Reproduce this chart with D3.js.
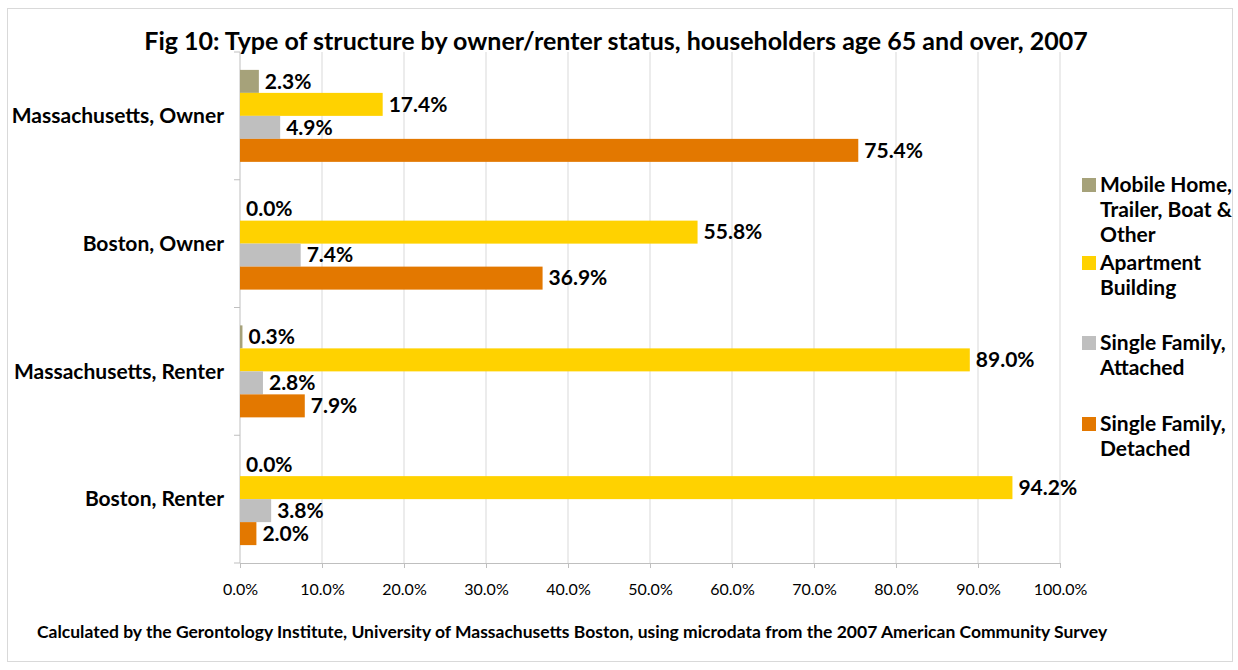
<!DOCTYPE html>
<html>
<head>
<meta charset="utf-8">
<script src="https://cdn.jsdelivr.net/npm/d3@7"></script>
<style>
  body { margin: 0; background: #fff; }
  svg text { font-family: Lato, "Open Sans", sans-serif; }
</style>
</head>
<body>
<svg id="chart" width="1238" height="670"></svg>
<script>
// data
const categories = ["Massachusetts, Owner", "Boston, Owner", "Massachusetts, Renter", "Boston, Renter"];
const seriesNames = ["Mobile Home, Trailer, Boat & Other", "Apartment Building", "Single Family, Attached", "Single Family, Detached"];
const legendLines = [["Mobile Home,", "Trailer, Boat &", "Other"], ["Apartment", "Building"], ["Single Family,", "Attached"], ["Single Family,", "Detached"]];
const mobileHome = [2.3, 0.0, 0.3, 0.0];
const apartment = [17.4, 55.8, 89.0, 94.2];
const sfAttached = [4.9, 7.4, 2.8, 3.8];
const sfDetached = [75.4, 36.9, 7.9, 2.0];
const xTicks = [0, 10, 20, 30, 40, 50, 60, 70, 80, 90, 100];
const colors = ["#A6A27A", "#FFD200", "#BFBFBF", "#E37800"];

const series = [mobileHome, apartment, sfAttached, sfDetached];

const svg = d3.select("#chart");

// outer frame
svg.append("rect")
  .attr("x", 7.5).attr("y", 8.5).attr("width", 1225).attr("height", 653)
  .attr("fill", "#fff").attr("stroke", "#D9D9D9");

const plot = { left: 240, right: 1060, top: 52, bottom: 563 };

const x = d3.scaleLinear().domain([0, 100]).range([plot.left, plot.right]);
const y = d3.scaleBand().domain(categories).range([plot.top, plot.bottom]).paddingInner(0.28).paddingOuter(0.14);
const ySub = d3.scaleBand().domain(d3.range(series.length)).range([0, y.bandwidth()]);

// gridlines
svg.append("g").selectAll("line").data(xTicks.slice(1)).join("line")
  .attr("x1", d => x(d)).attr("x2", d => x(d))
  .attr("y1", plot.top).attr("y2", plot.bottom)
  .attr("stroke", "#D9D9D9").attr("stroke-width", 1);

// x axis
const xAxis = svg.append("g").attr("transform", `translate(0,${plot.bottom})`)
  .call(d3.axisBottom(x).tickValues(xTicks).tickFormat(d => d.toFixed(1) + "%").tickSize(5).tickPadding(16));
xAxis.select(".domain").attr("stroke", "#BFBFBF");
xAxis.selectAll(".tick line").attr("stroke", "#BFBFBF");
xAxis.selectAll("text").attr("font-size", 16).attr("fill", "#000")
  .style("font-family", "Lato, sans-serif");

// y axis
const bandEdges = d3.range(categories.length + 1).map(i => plot.top + i * (plot.bottom - plot.top) / categories.length);
svg.append("line").attr("x1", plot.left).attr("x2", plot.left)
  .attr("y1", plot.top).attr("y2", plot.bottom).attr("stroke", "#BFBFBF");
svg.append("g").selectAll("line").data(bandEdges).join("line")
  .attr("x1", plot.left - 6).attr("x2", plot.left)
  .attr("y1", d => d).attr("y2", d => d).attr("stroke", "#BFBFBF");

svg.append("g").selectAll("text").data(categories).join("text")
  .attr("x", 224)
  .attr("y", d => y(d) + y.bandwidth() / 2)
  .attr("dy", "0.35em")
  .attr("text-anchor", "end")
  .attr("font-size", 21).attr("font-weight", "bold")
  .text(d => d);

// bars
series.forEach((vals, si) => {
  const g = svg.append("g");
  g.selectAll("rect").data(vals).join("rect")
    .attr("x", x(0))
    .attr("y", (d, i) => y(categories[i]) + ySub(si))
    .attr("width", d => x(d) - x(0))
    .attr("height", ySub.bandwidth())
    .attr("fill", colors[si]);
  g.selectAll("text").data(vals).join("text")
    .attr("x", d => x(d) + 6)
    .attr("y", (d, i) => y(categories[i]) + ySub(si) + ySub.bandwidth() / 2)
    .attr("dy", "0.35em")
    .attr("font-size", 21).attr("font-weight", "bold")
    .text(d => d.toFixed(1) + "%");
});

// title
svg.append("text")
  .attr("x", 616).attr("y", 50)
  .attr("text-anchor", "middle")
  .attr("font-size", 25).attr("font-weight", "bold")
  .text("Fig 10: Type of structure by owner/renter status, householders age 65 and over, 2007");

// legend
const legendTop = [185, 263, 343, 424];
const legend = svg.append("g");
legendLines.forEach((lines, i) => {
  legend.append("rect")
    .attr("x", 1082).attr("y", legendTop[i] - 7).attr("width", 14).attr("height", 14)
    .attr("fill", colors[i]);
  legend.append("text")
    .attr("x", 1100).attr("y", legendTop[i])
    .attr("font-size", 21).attr("font-weight", "bold")
    .selectAll("tspan").data(lines).join("tspan")
    .attr("x", 1100).attr("dy", (d, j) => j === 0 ? "0.35em" : 25)
    .text(d => d);
});

// footnote
svg.append("text")
  .attr("x", 37).attr("y", 638)
  .attr("font-size", 17.5).attr("font-weight", "bold")
  .text("Calculated by the Gerontology Institute, University of Massachusetts Boston, using microdata from the 2007 American Community Survey");
</script>
</body>
</html>
